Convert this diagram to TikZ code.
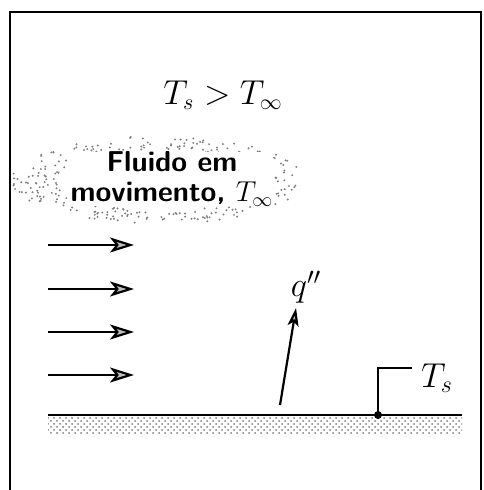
\documentclass[tikz,border=0pt]{standalone}
\usepackage{amsmath, amssymb}
\usepackage{tikz}
\usetikzlibrary{arrows.meta, positioning, calc, patterns}
\usepackage{xcolor}

\begin{document}
\begin{tikzpicture}[x=0.5pt, y=-0.5pt,
  flow/.style={line width=1.1pt, -{Stealth[length=12pt, width=7.5pt, inset=3pt, fill=gray!50]}},
  flux/.style={line width=1.1pt, -{Stealth[length=9pt, width=5.5pt, inset=2pt, fill=gray!50]}}]
  \useasboundingbox (0,0) rectangle (483,490);
  \draw[line width=1.1pt] (10,490) -- (10,12) -- (481,12) -- (481,490);
  \node[font=\fontsize{16}{19}\selectfont] (cond) at (223,95) {$T_s > T_\infty$};
  % fluido (nuvem pontilhada)
  \pgfmathsetseed{11}
  \foreach \i in {1,...,300} {
    \pgfmathsetmacro\ang{rand*180}
    \pgfmathsetmacro\rad{0.70+0.30*rnd}
    \fill[gray] ({158+146*\rad*cos(\ang)},{180+44*\rad*sin(\ang)}) circle (0.55pt);
  }
  \node[font=\sffamily\bfseries\Large, align=center, inner sep=0pt, fill=white] (fluid) at (172,179)
    {Fluido em\\[-3pt]movimento, $T_\infty$};
  \foreach \y [count=\k] in {245,289,332,375} {
    \coordinate (in\k) at (48,\y);
    \coordinate (out\k) at (134,\y);
    \draw[flow] (in\k) -- (out\k);
  }
  % superficie
  \coordinate (sl) at (48,415);
  \coordinate (sr) at (462,415);
  \fill[pattern=crosshatch dots, pattern color=gray] (48,416) rectangle (462,433);
  \draw[line width=1.3pt] (sl) -- (sr);
  % fluxo de calor
  \coordinate (qa) at (280,405);
  \coordinate (qb) at (296,308);
  \draw[flux] (qa) -- (qb);
  \node (q) at (306,287) {\LARGE$q''$};
  % temperatura da superficie
  \coordinate (ts) at (378,415);
  \coordinate (tsend) at (412,368);
  \fill (ts) circle (2pt);
  \draw[line width=0.8pt] (ts) |- (tsend);
  \node[right=1pt of tsend, yshift=-5pt] (tslab) {\LARGE$T_s$};
\end{tikzpicture}
\end{document}
